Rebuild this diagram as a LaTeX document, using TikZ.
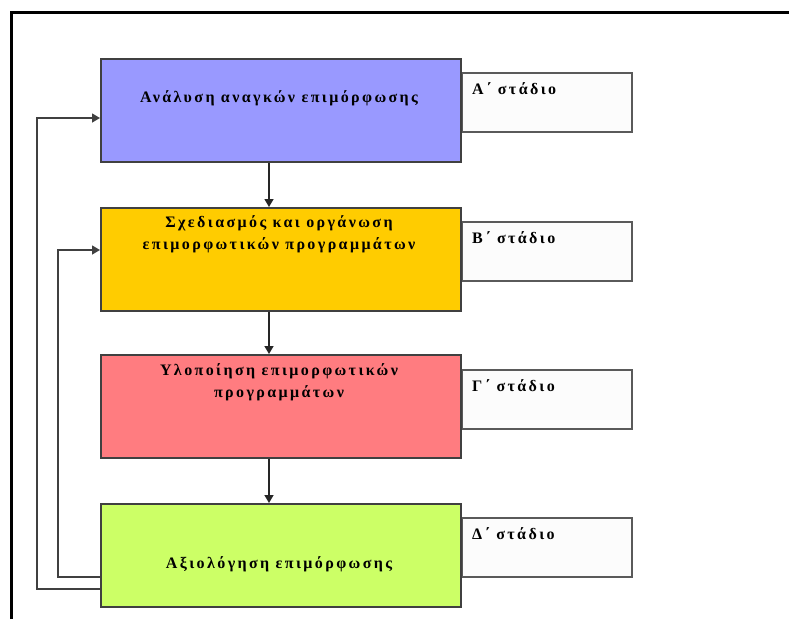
\documentclass[tikz,border=0pt]{standalone}
\usepackage{fontspec}
\setmainfont{Liberation Serif}
\newfontfamily\spaced[LetterSpace=15]{Liberation Serif}
\usetikzlibrary{arrows.meta}
\definecolor{cA}{RGB}{153,153,255}
\definecolor{cB}{RGB}{255,204,0}
\definecolor{cC}{RGB}{255,124,128}
\definecolor{cD}{RGB}{204,255,102}
\definecolor{edge}{RGB}{64,64,64}
\definecolor{sedge}{RGB}{90,90,90}
\tikzset{
  mainbox/.style={draw=edge, line width=1.5pt, anchor=north west, minimum width=360pt, minimum height=103pt, inner sep=0pt},
  stagebox/.style={draw=sedge, line width=1.5pt, fill=white!99!black, anchor=north west, minimum width=170pt, minimum height=59pt, inner sep=0pt},
  maintext/.style={font=\spaced\bfseries\fontsize{16}{22}\selectfont, align=center, inner sep=0pt},
  stagetext/.style={font=\spaced\bfseries\fontsize{16}{18}\selectfont, anchor=west, inner sep=0pt},
  arr/.style={draw=black!85, line width=1.4pt, -{Triangle[length=8pt,width=9pt]}},
  fb/.style={draw=black!75, line width=1.4pt, -{Triangle[length=8pt,width=9pt]}},
  frame/.style={draw=black, line width=3.5pt}
}
\begin{document}
\begin{tikzpicture}[x=1pt,y=-1pt]
\useasboundingbox (0,0) rectangle (789,619);
\fill[white] (0,0) rectangle (789,619);
% frame
\coordinate (fr1) at (11.5,619);
\coordinate (fr2) at (11.5,12.5);
\coordinate (fr3) at (789,12.5);
\draw[frame] (fr1) -- (fr2) -- (fr3);
% stage boxes
\node[stagebox] (gA) at (461,72) {};
\node[stagebox] (gB) at (461,221) {};
\node[stagebox] (gC) at (461,369) {};
\node[stagebox] (gD) at (461,517) {};
\node[stagetext] (lA) at (472,89) {Α΄ στάδιο};
\node[stagetext] (lB) at (472,238) {Β΄ στάδιο};
\node[stagetext] (lC) at (472,386) {Γ΄ στάδιο};
\node[stagetext] (lD) at (472,534) {Δ΄ στάδιο};
% main boxes
\node[mainbox, fill=cA] (s1) at (100,58) {};
\node[mainbox, fill=cB] (s2) at (100,207) {};
\node[mainbox, fill=cC] (s3) at (100,354) {};
\node[mainbox, fill=cD] (s4) at (100,503) {};
\node[maintext] (t1) at (279,98) {Ανάλυση αναγκών επιμόρφωσης};
\node[maintext] (t2) at (279,234) {Σχεδιασμός και οργάνωση\\επιμορφωτικών προγραμμάτων};
\node[maintext] (t3) at (279,382) {Υλοποίηση επιμορφωτικών\\προγραμμάτων};
\node[maintext] (t4) at (279,564) {Αξιολόγηση επιμόρφωσης};
% arrows
\coordinate (ax) at (269,0);
\draw[arr] (s1.south -| ax) -- (s2.north -| ax);
\draw[arr] (s2.south -| ax) -- (s3.north -| ax);
\draw[arr] (s3.south -| ax) -- (s4.north -| ax);
% feedback
\coordinate (fo) at (37,589);
\coordinate (fot) at (37,118);
\coordinate (fi) at (58,577);
\coordinate (fit) at (58,250);
\draw[fb] (s4.west |- fo) -- (fo) -- (fot) -- (s1.west |- fot);
\draw[fb] (s4.west |- fi) -- (fi) -- (fit) -- (s2.west |- fit);
\end{tikzpicture}
\end{document}
